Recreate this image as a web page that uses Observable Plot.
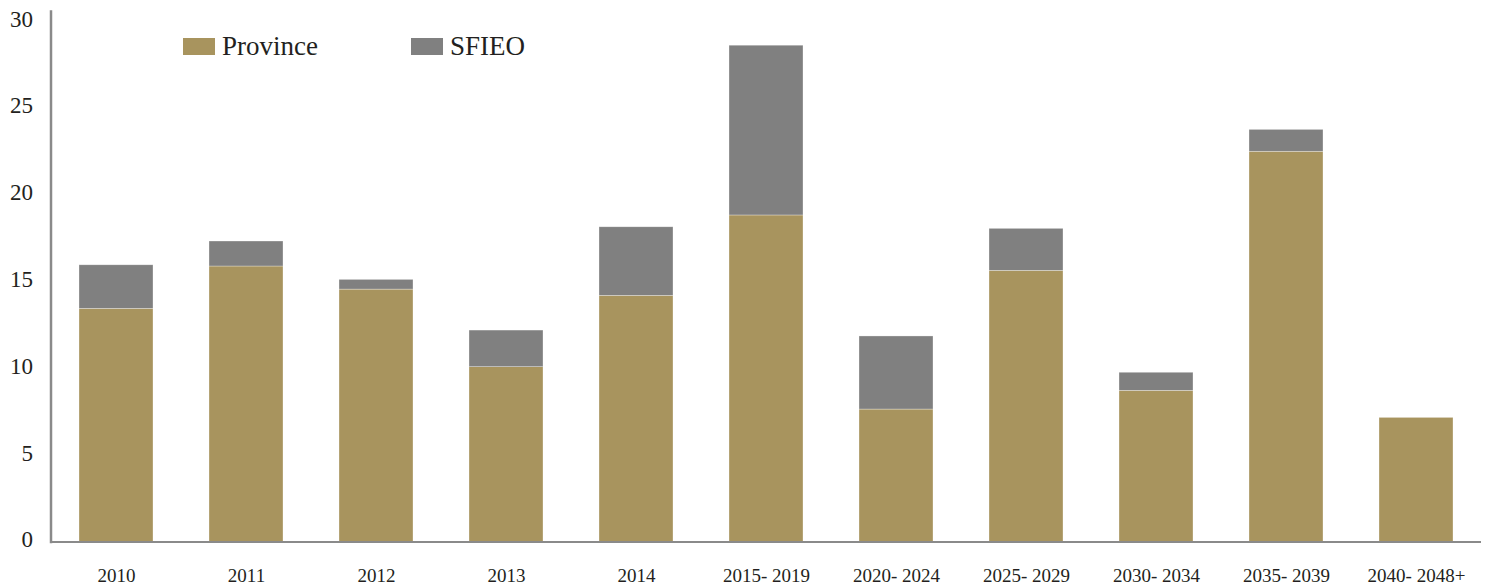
<!DOCTYPE html>
<html>
<head>
<meta charset="utf-8">
<script src="https://cdn.jsdelivr.net/npm/d3@7"></script>
<script src="https://cdn.jsdelivr.net/npm/@observablehq/plot@0.6"></script>
<style>
  html, body { margin: 0; padding: 0; background: #fff; }
  #wrap { position: relative; width: 1488px; height: 586px; font-family: "Liberation Serif", "Times New Roman", "DejaVu Serif", serif; color: #231f20; }
  .leg { position: absolute; display: flex; align-items: center; font-size: 27px; line-height: 1; }
  .sw { width: 32px; height: 17px; margin-right: 7px; }
</style>
</head>
<body>
<div id="wrap"></div>
<script>
const categories = ["2010", "2011", "2012", "2013", "2014", "2015- 2019", "2020- 2024", "2025- 2029", "2030- 2034", "2035- 2039", "2040- 2048+"];
const province = [13.43, 15.87, 14.54, 10.07, 14.18, 18.81, 7.63, 15.62, 8.71, 22.48, 7.15];
const sfieo = [2.51, 1.44, 0.56, 2.11, 3.95, 9.78, 4.21, 2.42, 1.04, 1.26, 0];
const seriesNames = ["Province", "SFIEO"];
const seriesColors = ["#a8945e", "#808080"];
const yTicks = [0, 5, 10, 15, 20, 25, 30];

const data = [];
categories.forEach((c, i) => {
  data.push({cat: c, series: seriesNames[0], value: province[i]});
  data.push({cat: c, series: seriesNames[1], value: sfieo[i]});
});

const chart = Plot.plot({
  width: 1488,
  height: 586,
  marginLeft: 50.5,
  marginRight: 7,
  marginTop: 11,
  marginBottom: 44.5,
  style: {fontFamily: "'Liberation Serif', 'Times New Roman', 'DejaVu Serif', serif", color: "#231f20", background: "white"},
  x: {domain: categories, paddingInner: 0.427, paddingOuter: 0.2135, label: null},
  y: {domain: [0, 30.56], label: null},
  color: {domain: seriesNames, range: seriesColors},
  marks: [
    Plot.barY(data, {x: "cat", y: "value", fill: "series", stroke: "white", strokeWidth: 0.6, strokeOpacity: 0.5}),
    Plot.ruleY([0], {stroke: "#8a8a8a", strokeWidth: 2}),
    Plot.frame({anchor: "left", stroke: "#8a8a8a", strokeWidth: 2.5}),
    Plot.axisY(yTicks, {tickSize: 0, tickPadding: 18, fontSize: 23, fill: "#231f20", dy: -2}),
    Plot.axisX({tickSize: 0, tickPadding: 26, fontSize: 19, fill: "#231f20"})
  ]
});

const wrap = document.getElementById("wrap");
wrap.appendChild(chart);

const legendPos = [183, 411];
seriesNames.forEach((name, i) => {
  const item = document.createElement("div");
  item.className = "leg";
  item.style.left = legendPos[i] + "px";
  item.style.top = "33px";
  const sw = document.createElement("div");
  sw.className = "sw";
  sw.style.background = seriesColors[i];
  const t = document.createElement("span");
  t.textContent = name;
  item.appendChild(sw);
  item.appendChild(t);
  wrap.appendChild(item);
});
</script>
</body>
</html>
